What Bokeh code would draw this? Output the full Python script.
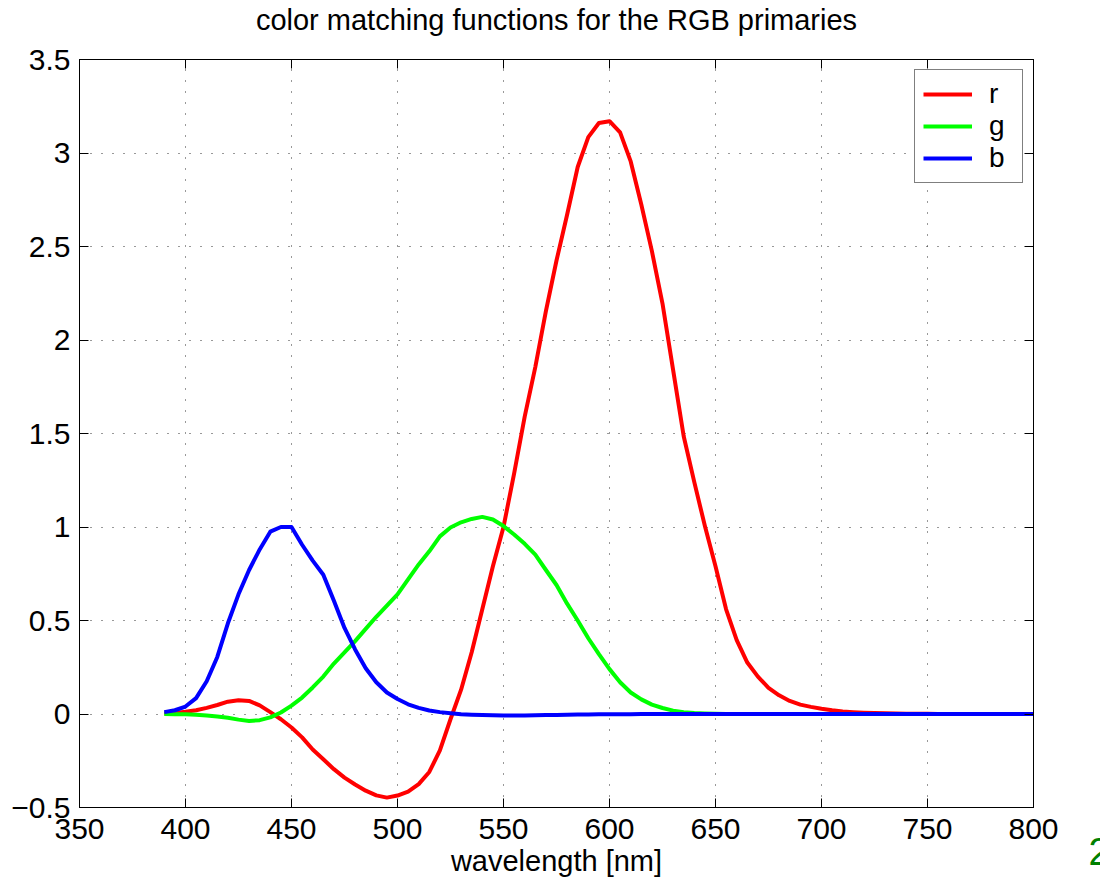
from bokeh.plotting import figure
from bokeh.models import Range1d, LinearAxis, FixedTicker, Legend, LegendItem, Label
from bokeh.layouts import row
from bokeh.embed import file_html
from bokeh.resources import INLINE

# ---------------- data ----------------
wavelength = list(range(390, 805, 5))

r_bar = [0.003, 0.006, 0.012, 0.020, 0.033, 0.048, 0.066, 0.074, 0.070, 0.046,
         0.010, -0.028, -0.072, -0.125, -0.190, -0.242, -0.295, -0.340, -0.377, -0.410,
         -0.435, -0.447, -0.436, -0.415, -0.375, -0.310, -0.195, -0.028, 0.130, 0.330,
         0.560, 0.790, 1.000, 1.285, 1.590, 1.855, 2.155, 2.425, 2.670, 2.925,
         3.085, 3.160, 3.170, 3.110, 2.955, 2.725, 2.475, 2.195, 1.840, 1.485,
         1.240, 1.005, 0.790, 0.560, 0.395, 0.275, 0.200, 0.140, 0.100, 0.070,
         0.050, 0.038, 0.028, 0.020, 0.014, 0.010, 0.007, 0.005, 0.0035, 0.0025,
         0.0018, 0.0013, 0.0009, 0.0006, 0.0004, 0.0003, 0.0002, 0.00015, 0.0001, 0.00008,
         0.00006, 0.00004, 0.00003]

g_bar = [-0.0005, -0.001, -0.002, -0.004, -0.008, -0.013, -0.020, -0.030, -0.037, -0.033,
         -0.018, 0.008, 0.045, 0.088, 0.142, 0.200, 0.270, 0.330, 0.390, 0.455,
         0.520, 0.580, 0.640, 0.720, 0.800, 0.870, 0.950, 0.997, 1.025, 1.043,
         1.054, 1.040, 1.005, 0.960, 0.910, 0.852, 0.770, 0.690, 0.590, 0.500,
         0.405, 0.320, 0.240, 0.170, 0.115, 0.078, 0.050, 0.032, 0.018, 0.010,
         0.005, 0.0025, 0.001, 0.0005, 0.0002, 0.0001, 0.0, 0.0, 0.0, 0.0,
         0.0, 0.0, 0.0, 0.0, 0.0, 0.0, 0.0, 0.0, 0.0, 0.0,
         0.0, 0.0, 0.0, 0.0, 0.0, 0.0, 0.0, 0.0, 0.0, 0.0,
         0.0, 0.0, 0.0]

b_bar = [0.010, 0.020, 0.040, 0.085, 0.175, 0.305, 0.485, 0.640, 0.770, 0.880,
         0.975, 1.000, 1.000, 0.905, 0.820, 0.745, 0.605, 0.460, 0.345, 0.245,
         0.170, 0.115, 0.080, 0.052, 0.033, 0.019, 0.010, 0.004, -0.001, -0.004,
         -0.006, -0.007, -0.008, -0.008, -0.008, -0.007, -0.006, -0.005, -0.004, -0.003,
         -0.0025, -0.002, -0.0015, -0.001, -0.0008, -0.0006, -0.0004, -0.0003, -0.0002, -0.0001,
         0.0, 0.0, 0.0, 0.0, 0.0, 0.0, 0.0, 0.0, 0.0, 0.0,
         0.0, 0.0, 0.0, 0.0, 0.0, 0.0, 0.0, 0.0, 0.0, 0.0,
         0.0, 0.0, 0.0, 0.0, 0.0, 0.0, 0.0, 0.0, 0.0, 0.0,
         0.0, 0.0, 0.0]

series_names = ["r", "g", "b"]
series_colors = ["#ff0000", "#00ff00", "#0000ff"]

x_ticks = [350, 400, 450, 500, 550, 600, 650, 700, 750, 800]
x_tick_labels = ["350", "400", "450", "500", "550", "600", "650", "700", "750", "800"]
y_ticks = [-0.5, 0, 0.5, 1, 1.5, 2, 2.5, 3, 3.5]
y_tick_labels = ["\u22120.5", "0", "0.5", "1", "1.5", "2", "2.5", "3", "3.5"]

title_text = "color matching functions for the RGB primaries"
xlabel_text = "wavelength [nm]"
corner_text = "2"

# ---------------- figure ----------------
FONT = "Liberation Sans"
TICK_FS = "30px"
W, H = 1088, 880
W2 = 12

p = figure(width=W, height=H, x_range=Range1d(350, 800), y_range=Range1d(-0.5, 3.5),
           output_backend="svg", toolbar_location=None,
           min_border_left=79, min_border_right=W - 1033,
           min_border_top=57, min_border_bottom=H - 807)
p.background_fill_color = "white"
p.border_fill_color = "white"
p.outline_line_color = "black"
p.outline_line_width = 1
p.title.visible = False

bottom_axis = p.below[0]
left_axis = p.left[0]
top_axis = LinearAxis()
right_axis = LinearAxis()
p.add_layout(top_axis, "above")
p.add_layout(right_axis, "right")

xt = FixedTicker(ticks=x_ticks)
yt = FixedTicker(ticks=y_ticks)

for ax, tk, labs, show in [(bottom_axis, xt, x_tick_labels, True),
                           (left_axis, yt, y_tick_labels, True),
                           (top_axis, xt, x_tick_labels, False),
                           (right_axis, yt, y_tick_labels, False)]:
    ax.ticker = tk
    ax.axis_line_color = "black"
    ax.axis_line_width = 1
    ax.major_tick_line_color = "black"
    ax.major_tick_line_width = 1
    ax.major_tick_in = 9
    ax.major_tick_out = 0
    ax.minor_tick_line_color = None
    ax.major_label_text_font = FONT
    ax.major_label_text_color = "black"
    if show:
        ax.major_label_overrides = {t: l for t, l in zip(tk.ticks, labs)}
        ax.major_label_text_font_size = TICK_FS
        ax.major_label_standoff = 9
    else:
        # box-style axes: ticks only, no labels
        ax.major_label_overrides = {t: "" for t in tk.ticks}
        ax.major_label_text_font_size = "1px"
        ax.major_label_standoff = 0

# chart title carried by the top (box) axis so it can sit high in the margin
top_axis.axis_label = title_text
top_axis.axis_label_text_font = FONT
top_axis.axis_label_text_font_size = "29px"
top_axis.axis_label_text_font_style = "normal"
top_axis.axis_label_text_color = "black"
top_axis.axis_label_standoff = 24

bottom_axis.major_label_standoff = 11
bottom_axis.axis_label = xlabel_text
bottom_axis.axis_label_text_font = FONT
bottom_axis.axis_label_text_font_size = "29px"
bottom_axis.axis_label_text_font_style = "normal"
bottom_axis.axis_label_text_color = "black"
bottom_axis.axis_label_standoff = 3

p.xgrid.ticker = xt
p.ygrid.ticker = yt
p.grid.grid_line_color = "#333333"
p.grid.grid_line_width = 1
p.grid.grid_line_dash = "1 10"

renderers = []
for name, col, vals in zip(series_names, series_colors, [r_bar, g_bar, b_bar]):
    rr = p.line(wavelength, vals, line_color=col, line_width=4, line_join="round")
    renderers.append(rr)

legend = Legend(items=[LegendItem(label=n, renderers=[rr]) for n, rr in zip(series_names, renderers)],
                location="top_right", margin=10, padding=8, spacing=0,
                glyph_width=49, glyph_height=24, label_height=24, label_width=25,
                label_standoff=17, label_text_font=FONT, label_text_font_size="28px",
                label_text_color="black",
                border_line_color="black", border_line_width=1.5,
                background_fill_color="white", background_fill_alpha=1.0)
p.add_layout(legend)

# narrow strip at the right edge holding the stray green "2" (cut off by the window edge)
p2 = figure(width=W2, height=H, x_range=Range1d(0, W2), y_range=Range1d(H, 0),
            output_backend="svg", toolbar_location=None,
            min_border_left=0, min_border_right=0, min_border_top=0, min_border_bottom=0,
            x_axis_location=None, y_axis_location=None)
p2.frame_align = False
p2.title.visible = False
p2.grid.visible = False
p2.outline_line_color = None
p2.background_fill_color = "white"
p2.border_fill_color = "white"
p2.add_layout(Label(x=0, y=851, text=corner_text, text_align="left", text_baseline="middle",
                    text_font=FONT, text_font_size="38px", text_color="#008000"))

layout = row(p, p2, spacing=0)

open("out.html", "w").write(file_html(layout, INLINE))
